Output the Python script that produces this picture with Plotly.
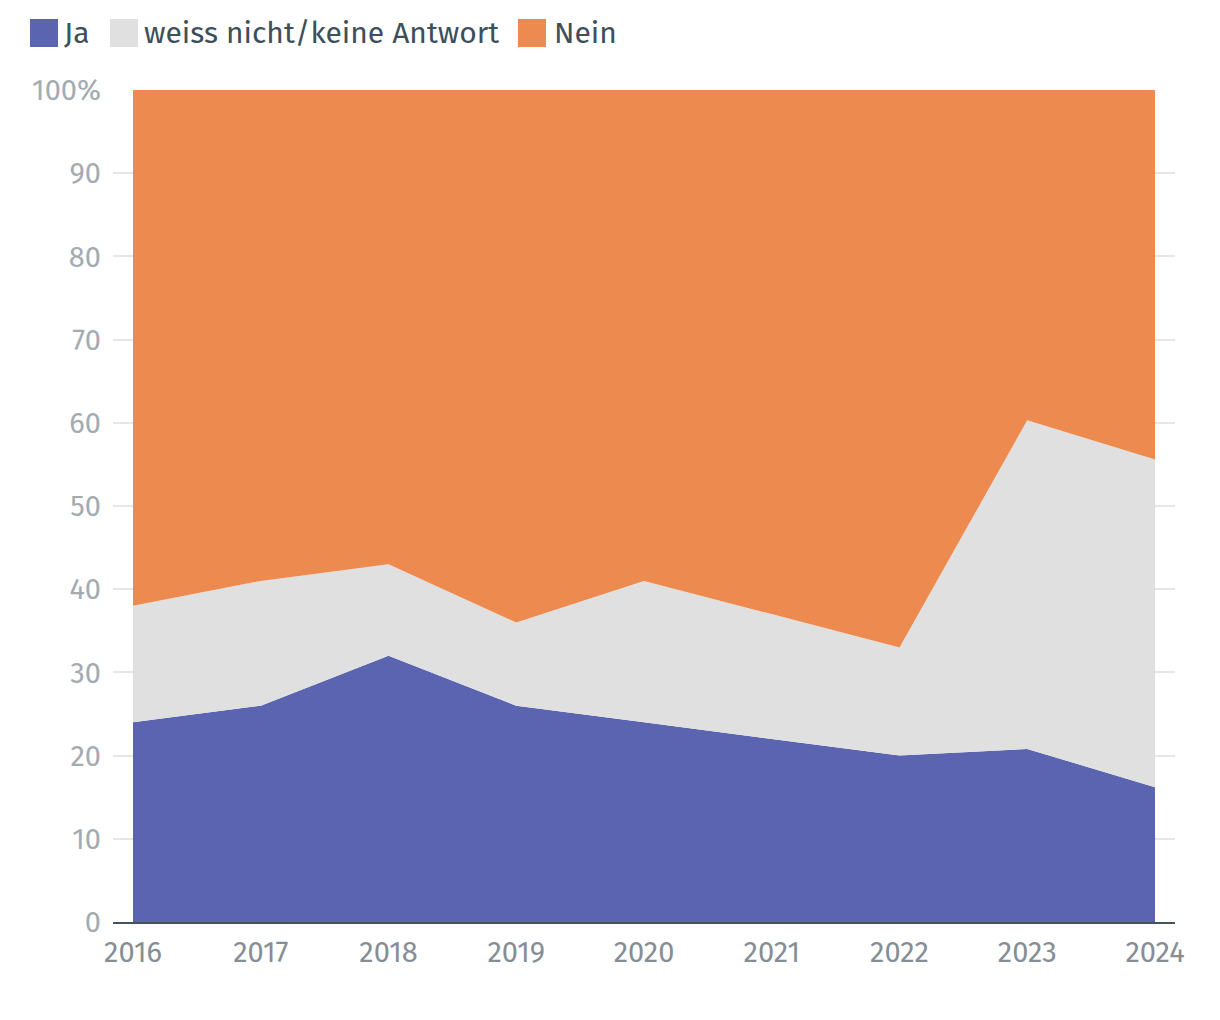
import plotly.graph_objects as go

years = [2016, 2017, 2018, 2019, 2020, 2021, 2022, 2023, 2024]
ja = [24, 26, 32, 26, 24, 22, 20, 20.8, 16.2]
weiss = [14, 15, 11, 10, 17, 15, 13, 39.5, 39.4]
nein = [62, 59, 57, 64, 59, 63, 67, 39.7, 44.4]
series_names = ["Ja", "weiss nicht/keine Antwort", "Nein"]
colors = ["#5a64b0", "#e0e0e0", "#ed8a4f"]
y_ticks = [0, 10, 20, 30, 40, 50, 60, 70, 80, 90, 100]
y_ticktext = ["0", "10", "20", "30", "40", "50", "60", "70", "80", "90", "100%"]

FONT = "Fira Sans, Noto Sans, sans-serif"

fig = go.Figure()
for name, vals, col in zip(series_names, [ja, weiss, nein], colors):
    fig.add_trace(go.Scatter(
        x=years, y=vals, name=name, stackgroup="one", mode="lines",
        line=dict(width=0, color=col), fillcolor=col, hoverinfo="skip",
        showlegend=False,
    ))

OFF = 8  # page body margin
W, H = 1204, 1004
ml, mt = 113 - OFF, 90 - OFF
mr = W - (1175 - OFF)
mb = H - (922 - OFF)
pw = W - ml - mr
ph = H - mt - mb

def px_x(px):
    return (px - OFF - ml) / pw

def px_y(py):
    return (H - mb - (py - OFF)) / ph

# manual legend
legend_items = [(30, 62), (110, 142), (518, 552)]
for (sq_x, tx), name, col in zip(legend_items, series_names, colors):
    fig.add_shape(type="rect", xref="paper", yref="paper",
                  x0=px_x(sq_x), x1=px_x(sq_x + 28), y0=px_y(47), y1=px_y(19),
                  fillcolor=col, line=dict(width=0))
    fig.add_annotation(xref="paper", yref="paper", x=px_x(tx), y=px_y(33),
                       text=name, showarrow=False, xanchor="left", yanchor="middle",
                       font=dict(family=FONT, size=30, color="#3d4f5c"))

pad = 20 / ((1155 - 133) / 8)
fig.update_layout(
    width=W, height=H,
    margin=dict(l=ml, r=mr, t=mt, b=mb),
    plot_bgcolor="white", paper_bgcolor="white",
    font=dict(family=FONT),
    xaxis=dict(range=[years[0] - pad, years[-1] + pad], tickvals=years,
               ticktext=[str(y) for y in years], showgrid=False, zeroline=False,
               showline=True, linecolor="#44545e", linewidth=2,
               tickfont=dict(size=29, color="#858e96"), ticks="",
               ticklabelstandoff=3),
    yaxis=dict(range=[0, 100], tickvals=y_ticks, ticktext=y_ticktext,
               showgrid=True, gridcolor="#e6e6e6", gridwidth=2, zeroline=False,
               showline=False, tickfont=dict(size=29, color="#a4abb0"), ticks="",
               ticklabelstandoff=11),
)

fig.write_html("out.html")
